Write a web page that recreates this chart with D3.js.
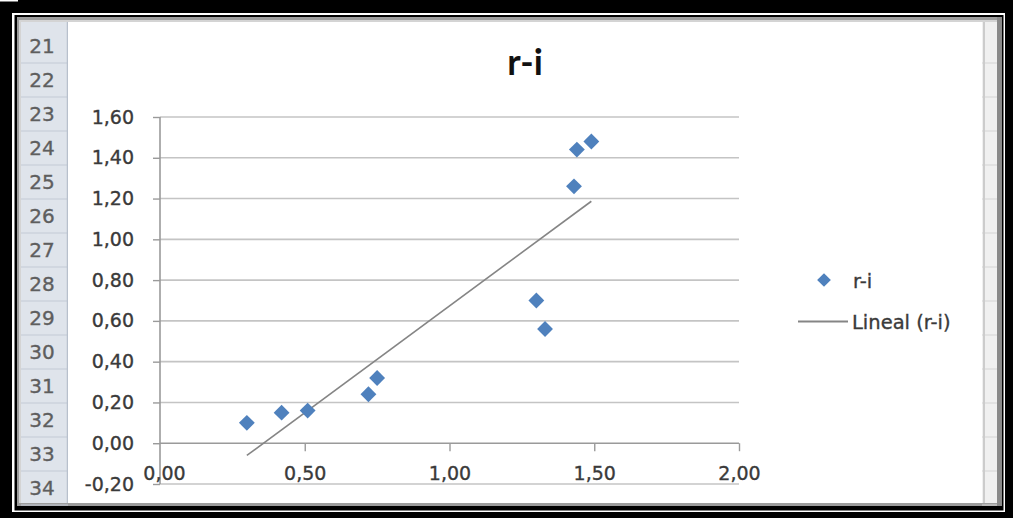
<!DOCTYPE html>
<html>
<head>
<meta charset="utf-8">
<script src="https://cdn.jsdelivr.net/npm/d3@7"></script>
<style>
  body { margin: 0; background: #fff; }
  svg { display: block; }
  text { font-family: "DejaVu Sans", sans-serif; }
</style>
</head>
<body>
<svg id="chart"></svg>
<script>
// data
const xValues = [0.30, 0.42, 0.51, 0.72, 0.75, 1.30, 1.33, 1.43, 1.44, 1.49];
const yValues = [0.10, 0.15, 0.16, 0.24, 0.32, 0.70, 0.56, 1.26, 1.44, 1.48];
const xTicks = [0, 0.5, 1, 1.5, 2];
const yTicks = [-0.2, 0, 0.2, 0.4, 0.6, 0.8, 1.0, 1.2, 1.4, 1.6];
const rowNumbers = [21, 22, 23, 24, 25, 26, 27, 28, 29, 30, 31, 32, 33, 34];
const seriesName = 'r-i';
const trendName = 'Lineal (r-i)';

const width = 1013;
const height = 518;

const svg = d3.select('#chart')
  .attr('width', width)
  .attr('height', height)
  .attr('viewBox', `0 0 ${width} ${height}`);

// frame around the screenshot
svg.append('rect').attr('width', width).attr('height', height).attr('fill', '#000');
svg.append('rect').attr('x', 0).attr('y', 0).attr('width', 18).attr('height', 1.5).attr('fill', '#fff');
svg.append('rect').attr('x', 12).attr('y', 13).attr('width', 993).attr('height', 499).attr('fill', '#fff');
svg.append('rect').attr('x', 14.5).attr('y', 15).attr('width', 989).attr('height', 495.5).attr('fill', '#000');
svg.append('rect').attr('x', 17).attr('y', 17).attr('width', 985).attr('height', 489).attr('fill', '#9c9c9c');
svg.append('rect').attr('x', 19).attr('y', 20).attr('width', 981).attr('height', 483).attr('fill', '#d4d4d4');

// spreadsheet row headers
const rowY = d3.scaleLinear().domain([21, 22]).range([29, 63]);

svg.append('rect')
  .attr('x', 21).attr('y', 22).attr('width', 47).attr('height', 481)
  .attr('fill', '#dfe4eb');

svg.append('g')
  .selectAll('line')
  .data(rowNumbers.slice(1).concat([35]))
  .join('line')
  .attr('x1', 21).attr('x2', 68)
  .attr('y1', d => rowY(d)).attr('y2', d => rowY(d))
  .attr('stroke', '#c3cad5').attr('stroke-width', 1.2);

svg.append('line')
  .attr('x1', 67.5).attr('x2', 67.5).attr('y1', 22).attr('y2', 503)
  .attr('stroke', '#b8c0cc').attr('stroke-width', 1.5);

svg.append('g')
  .selectAll('text')
  .data(rowNumbers)
  .join('text')
  .attr('x', 42)
  .attr('y', d => rowY(d) + 17)
  .attr('dy', '0.35em')
  .attr('text-anchor', 'middle')
  .attr('font-size', 20)
  .attr('fill', '#5e5e5e')
  .attr('stroke', '#5e5e5e')
  .attr('stroke-width', 0.35)
  .text(d => d);

// right column strip
svg.append('rect')
  .attr('x', 982).attr('y', 22).attr('width', 16).attr('height', 481)
  .attr('fill', '#f0f0f0');
svg.append('g')
  .selectAll('line')
  .data(rowNumbers.slice(1).concat([35]))
  .join('line')
  .attr('x1', 982).attr('x2', 998)
  .attr('y1', d => rowY(d)).attr('y2', d => rowY(d))
  .attr('stroke', '#d4d4d4').attr('stroke-width', 1);
svg.append('line')
  .attr('x1', 984).attr('x2', 984).attr('y1', 22).attr('y2', 503)
  .attr('stroke', '#cccccc').attr('stroke-width', 2);
svg.append('rect')
  .attr('x', 997).attr('y', 17).attr('width', 5).attr('height', 489)
  .attr('fill', '#8a8a8a');

// chart area
svg.append('rect')
  .attr('x', 68).attr('y', 22).attr('width', 914).attr('height', 481)
  .attr('fill', '#fff');

const x = d3.scaleLinear().domain([0, 2]).range([160, 739]);
const y = d3.scaleLinear().domain([-0.2, 1.6]).range([484, 117]);

const locale = d3.formatLocale({ decimal: ',', thousands: '.', grouping: [3], currency: ['', '€'], minus: '-' });
const fmt = locale.format('.2f');

// gridlines
svg.append('g')
  .selectAll('line')
  .data(yTicks.filter(d => d !== 0))
  .join('line')
  .attr('x1', x(0)).attr('x2', x(2))
  .attr('y1', d => y(d)).attr('y2', d => y(d))
  .attr('stroke', '#c4c4c4').attr('stroke-width', 1.6);

// y axis
const yAxis = svg.append('g')
  .attr('transform', `translate(${x(0)},0)`)
  .call(d3.axisLeft(y).tickValues(yTicks).tickSize(7).tickPadding(19).tickFormat(fmt));

// x axis, crossing at y = 0
const xAxis = svg.append('g')
  .attr('transform', `translate(0,${y(0)})`)
  .call(d3.axisBottom(x).tickValues(xTicks).tickSize(8).tickPadding(15).tickFormat(fmt));

[xAxis, yAxis].forEach(g => {
  g.select('.domain').attr('stroke', '#9a9a9a').attr('stroke-width', 1.6);
  g.selectAll('.tick line').attr('stroke', '#9a9a9a').attr('stroke-width', 1.4);
  g.selectAll('.tick text')
    .attr('fill', '#3a3a3a')
    .attr('stroke', '#3a3a3a')
    .attr('stroke-width', 0.35)
    .attr('font-size', 19)
    .attr('font-family', '"DejaVu Sans", sans-serif');
});
xAxis.select('.domain').attr('d', `M${x(0)},0H${x(2)}`);
yAxis.select('.domain').attr('d', `M0,${y(-0.2)}V${y(1.6)}`);
xAxis.selectAll('.tick').filter(d => d === 0).select('line').remove();
xAxis.selectAll('.tick').filter(d => d === 0).select('text').attr('x', 4);

// linear trendline (least squares)
const points = xValues.map((v, i) => [v, yValues[i]]);
const mx = d3.mean(xValues);
const my = d3.mean(yValues);
const slope = d3.sum(points, p => (p[0] - mx) * (p[1] - my)) / d3.sum(xValues, v => (v - mx) * (v - mx));
const intercept = my - slope * mx;
const xExt = d3.extent(xValues);

svg.append('path')
  .attr('d', d3.line().x(d => x(d)).y(d => y(intercept + slope * d))(xExt))
  .attr('stroke', '#858585')
  .attr('stroke-width', 1.6)
  .attr('fill', 'none');

// markers
const diamondType = d3.symbolDiamond2 || d3.symbolSquare;
const diamondRot = d3.symbolDiamond2 ? '' : ' rotate(45)';

svg.append('g')
  .selectAll('path')
  .data(points)
  .join('path')
  .attr('d', d3.symbol().type(diamondType).size(160))
  .attr('transform', d => `translate(${x(d[0])},${y(d[1])})` + diamondRot)
  .attr('fill', '#4f81bd');

// title
svg.append('text')
  .attr('x', 525)
  .attr('y', 75)
  .attr('text-anchor', 'middle')
  .style('font-family', 'Lato, sans-serif')
  .attr('font-size', 36)
  .attr('font-weight', 'bold')
  .attr('fill', '#111')
  .text(seriesName);

// legend
const legend = svg.append('g');
legend.append('path')
  .attr('d', d3.symbol().type(diamondType).size(120))
  .attr('transform', 'translate(824,280)' + diamondRot)
  .attr('fill', '#4f81bd');
legend.append('text')
  .attr('x', 853).attr('y', 281).attr('dy', '0.35em')
  .attr('font-size', 19.5).attr('fill', '#3a3a3a')
  .attr('stroke', '#3a3a3a').attr('stroke-width', 0.35)
  .text(seriesName);
legend.append('line')
  .attr('x1', 798).attr('x2', 848).attr('y1', 321.5).attr('y2', 321.5)
  .attr('stroke', '#858585').attr('stroke-width', 2);
legend.append('text')
  .attr('x', 852).attr('y', 322).attr('dy', '0.35em')
  .attr('font-size', 19.5).attr('fill', '#3a3a3a')
  .attr('stroke', '#3a3a3a').attr('stroke-width', 0.35)
  .text(trendName);
</script>
</body>
</html>
